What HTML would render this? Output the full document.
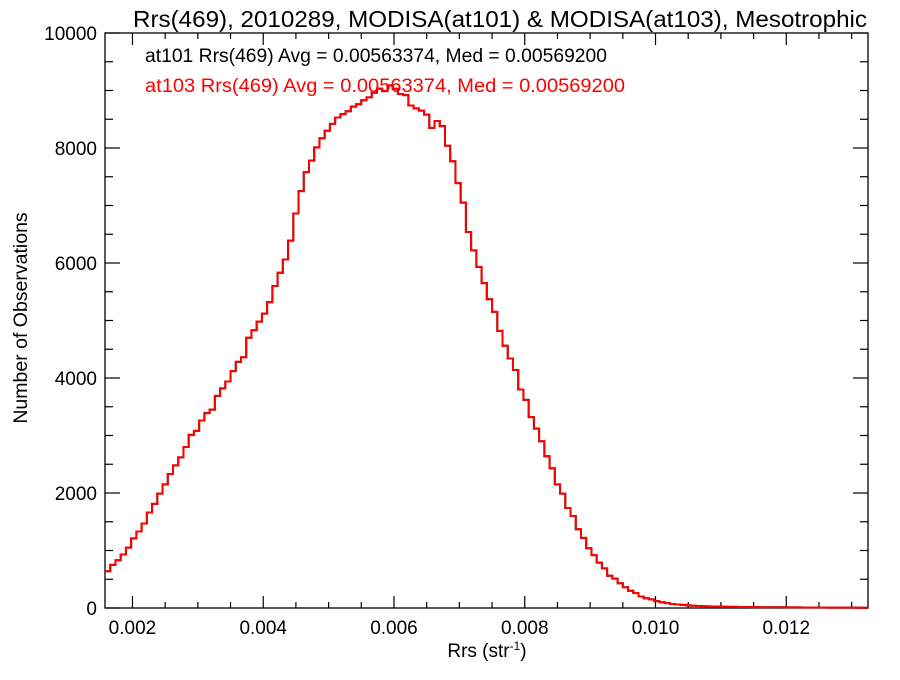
<!DOCTYPE html>
<html><head><meta charset="utf-8"><style>
body{margin:0;background:#fff;width:900px;height:675px;overflow:hidden}
svg{font-family:"Liberation Sans",sans-serif}
</style></head><body>
<svg id="chart" width="900" height="675" viewBox="0 0 900 675" xmlns="http://www.w3.org/2000/svg">
<text x="500" y="27" font-size="23.5" text-anchor="middle" textLength="734" lengthAdjust="spacingAndGlyphs">Rrs(469), 2010289, MODISA(at101) &amp; MODISA(at103), Mesotrophic</text>
<text x="145" y="62" font-size="19" fill="#000" textLength="462" lengthAdjust="spacingAndGlyphs">at101 Rrs(469) Avg = 0.00563374, Med = 0.00569200</text>
<text x="487" y="657" font-size="19" text-anchor="middle">Rrs (str<tspan dy="-7" font-size="12">-1</tspan><tspan dy="7">)</tspan></text>
<text transform="translate(27,318) rotate(-90)" font-size="19.5" text-anchor="middle">Number of Observations</text>
<g id="axes"></g>
<g id="series"></g>
<text x="145" y="92" font-size="19" fill="#ff0000" textLength="480" lengthAdjust="spacingAndGlyphs">at103 Rrs(469) Avg = 0.00563374, Med = 0.00569200</text>
</svg>
<script>
const binStart = 0.00158;
const binWidth = 0.00008;
const counts103 = [640,750,830,930,1050,1210,1330,1470,1660,1810,1990,2150,2330,2480,2620,2800,3010,3080,3260,3390,3450,3690,3820,3940,4120,4280,4360,4700,4830,4980,5120,5320,5600,5830,6060,6390,6860,7250,7580,7780,8010,8170,8300,8420,8530,8590,8640,8720,8760,8830,8880,8960,9030,8990,9090,9030,8940,8920,8740,8690,8650,8580,8350,8470,8380,8040,7770,7390,7050,6540,6220,5930,5650,5370,5150,4820,4560,4340,4140,3800,3620,3320,3120,2900,2640,2430,2150,1990,1740,1600,1370,1220,1040,920,790,690,560,510,430,360,300,260,200,170,150,120,100,85,70,60,55,45,40,35,30,28,26,24,22,20,19,18,17,16,15,14,14,13,12,12,11,10,10,9,9,8,8,8,7,7,7,6,6,6,5,5];
const counts101 = counts103.slice();
const xTicks = [0.002,0.004,0.006,0.008,0.010,0.012];
const xTickLabels = ["0.002","0.004","0.006","0.008","0.010","0.012"];
const yTicks = [0,2000,4000,6000,8000,10000];
const yTickLabels = ["0","2000","4000","6000","8000","10000"];

const NS="http://www.w3.org/2000/svg";
const L=105,R=868,T=33,B=608;
const xMin=0.00158,xMax=0.01325,yMin=0,yMax=10000;
const xs=v=>L+(v-xMin)/(xMax-xMin)*(R-L);
const ys=v=>B-(v-yMin)/(yMax-yMin)*(B-T);
function mk(tag,attrs,parent){const e=document.createElementNS(NS,tag);for(const k in attrs)e.setAttribute(k,attrs[k]);parent.appendChild(e);return e;}
const axes=document.getElementById('axes');
const frame=mk('rect',{x:L,y:T,width:R-L,height:B-T,fill:'none',stroke:'#000','stroke-width':1.3},axes);


for(let v=0.0020-0.0005;v<=xMax+1e-9;v+=0.0005){ if(v<xMin)continue; const x=xs(v);
  const major=xTicks.some(t=>Math.abs(t-v)<1e-7); const len=major?12:6;
  const t1=mk('line',{x1:x,x2:x,y1:B,y2:B-len,stroke:'#000','stroke-width':1.2},axes);
  
  
  const t2=mk('line',{x1:x,x2:x,y1:T,y2:T+len,stroke:'#000','stroke-width':1.2},axes);
  
  
}
xTicks.forEach((v,i)=>{const t=mk('text',{x:xs(v),y:634,'font-size':19,'text-anchor':'middle'},axes);t.textContent=xTickLabels[i];
  
  });
for(let v=0;v<=yMax;v+=500){const y=ys(v);const major=v%2000===0;const len=major?15:8;
  const t1=mk('line',{x1:L,x2:L+len,y1:y,y2:y,stroke:'#000','stroke-width':1.2},axes);
  
  
  const t2=mk('line',{x1:R,x2:R-len,y1:y,y2:y,stroke:'#000','stroke-width':1.2},axes);
  
  
}
yTicks.forEach((v,i)=>{const t=mk('text',{x:97,y:ys(v)+7,'font-size':19,'text-anchor':'end'},axes);t.textContent=yTickLabels[i];
  
  });
function stepPath(arr){let d='';arr.forEach((c,i)=>{const x0=xs(binStart+i*binWidth),x1=Math.min(R,xs(binStart+(i+1)*binWidth)),y=ys(c);
  d+=(i===0?'M':'L')+x0.toFixed(2)+','+y.toFixed(2)+'L'+x1.toFixed(2)+','+y.toFixed(2);});return d;}
const series=document.getElementById('series');
const p1=mk('path',{d:stepPath(counts101),fill:'none',stroke:'#000','stroke-width':2},series);


const p2=mk('path',{d:stepPath(counts103),fill:'none',stroke:'#ff0000','stroke-width':2},series);


</script>
</body></html>
